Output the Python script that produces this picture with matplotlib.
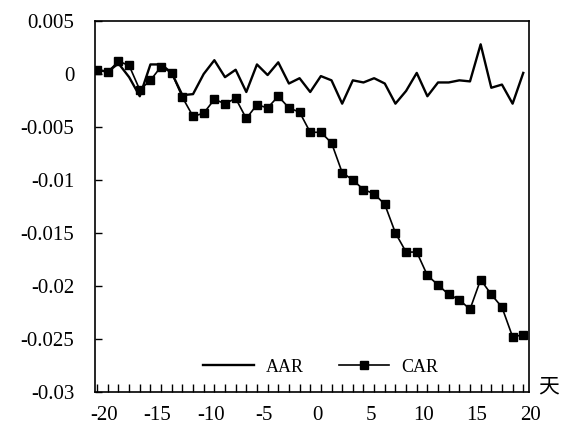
import numpy as np
import matplotlib
matplotlib.use('Agg')
import matplotlib.pyplot as plt
import matplotlib.transforms as mtransforms

plt.rcParams['font.family'] = ['Liberation Serif', 'Noto Sans CJK SC']

# event window (days)
days = np.arange(-20, 21)

# average abnormal return
aar = [0.0004, 0.0002, 0.0010, -0.0003, -0.0021, 0.0009, 0.0009, 0.0001,
       -0.0020, -0.0019, 0.0000, 0.0013, -0.0003, 0.0004, -0.0017, 0.0009,
       -0.0001, 0.0011, -0.0009, -0.0004, -0.0017, -0.0002, -0.0006, -0.0028,
       -0.0006, -0.0008, -0.0004, -0.0009, -0.0028, -0.0016, 0.0001, -0.0021,
       -0.0008, -0.0008, -0.0006, -0.0007, 0.0028, -0.0013, -0.0010, -0.0028,
       0.0001]

# cumulative abnormal return
car = [0.0004, 0.0002, 0.0012, 0.0008, -0.0015, -0.0006, 0.0007, 0.0001,
       -0.0022, -0.0040, -0.0037, -0.0024, -0.0028, -0.0023, -0.0042, -0.0029,
       -0.0032, -0.0021, -0.0032, -0.0036, -0.0055, -0.0055, -0.0065, -0.0093,
       -0.0100, -0.0109, -0.0113, -0.0123, -0.0150, -0.0168, -0.0168, -0.0190,
       -0.0199, -0.0208, -0.0213, -0.0222, -0.0194, -0.0208, -0.0220, -0.0248,
       -0.0246]

yticks = [0.005, 0, -0.005, -0.01, -0.015, -0.02, -0.025, -0.03]
ytick_labels = ['0.005', '0', '-0.005', '-0.01', '-0.015', '-0.02', '-0.025', '-0.03']
xticks = [-20, -15, -10, -5, 0, 5, 10, 15, 20]

fig = plt.figure(figsize=(5.63, 4.37), dpi=100)
ax = fig.add_axes([0.169, 0.103, 0.771, 0.849])

ax.plot(days, aar, color='black', linewidth=1.7, label='AAR')
ax.plot(days, car, color='black', linewidth=1.2, marker='s', markersize=6,
        label='CAR')

ax.set_xlim(-20.19, 20.56)
ax.set_ylim(-0.03, 0.005)

ax.set_yticks(yticks)
ax.set_yticklabels(ytick_labels, fontsize=15)
ax.set_xticks(xticks)
ax.set_xticklabels([str(x) for x in xticks], fontsize=15)
ax.set_xticks(days, minor=True)

ax.tick_params(axis='y', direction='in', length=5, width=1, pad=15)
ax.tick_params(axis='x', which='major', direction='in', length=6, width=1, pad=10)
ax.tick_params(axis='x', which='minor', direction='in', length=6, width=1)

# shift x tick labels slightly right
offset = mtransforms.ScaledTranslation(7 / 100, 0, fig.dpi_scale_trans)
for lab in ax.get_xticklabels():
    lab.set_transform(lab.get_transform() + offset)

for sp in ax.spines.values():
    sp.set_linewidth(1.2)

ax.legend(loc='lower center', bbox_to_anchor=(0.52, 0.0), ncol=2, frameon=False,
          fontsize=13, handlelength=2.8, columnspacing=1.9, handletextpad=0.7)

fig.text(0.975, 0.115, '天', fontsize=15, family=['Noto Sans CJK SC'],
         ha='center', va='center')

fig.savefig('out.png', dpi=100)
